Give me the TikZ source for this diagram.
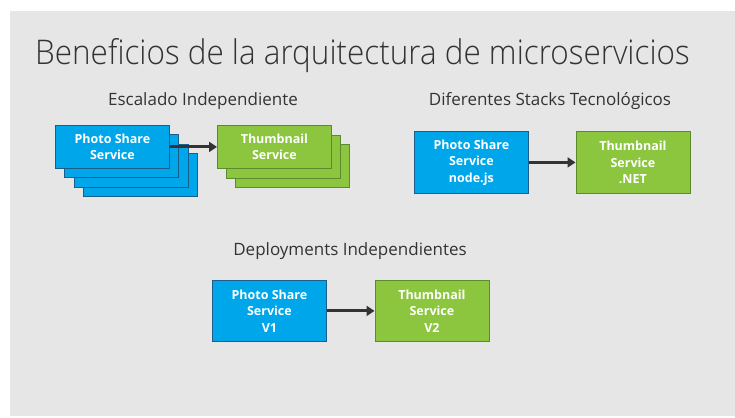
\documentclass[tikz,border=0pt]{standalone}
\usepackage{fontspec}
\setmainfont{Open Sans}
\newfontfamily\lightfont{Open Sans Light}
\usetikzlibrary{arrows.meta}
\definecolor{slidebg}{HTML}{E6E6E6}
\definecolor{svcblue}{HTML}{00A6EA}
\definecolor{svcblueedge}{HTML}{1B5E8C}
\definecolor{svcgreen}{HTML}{8CC63F}
\definecolor{svcgreenedge}{HTML}{5E8A2E}
\definecolor{txtgrey}{HTML}{333333}
\definecolor{arrowgrey}{HTML}{333333}
\begin{document}
\begin{tikzpicture}[x=1pt,y=-1pt,
  bluebox/.style={draw=svcblueedge,fill=svcblue,line width=0.8pt,minimum width=114pt,inner sep=0pt,
    text=white,font=\bfseries\fontsize{12.5}{16.5}\selectfont,align=center,anchor=north west},
  greenbox/.style={draw=svcgreenedge,fill=svcgreen,line width=0.8pt,minimum width=114pt,inner sep=0pt,
    text=white,font=\bfseries\fontsize{12.5}{16.5}\selectfont,align=center,anchor=north west},
  heading/.style={text=txtgrey,font=\fontsize{17}{20}\selectfont,inner sep=0pt},
  flow/.style={draw=arrowgrey,line width=3pt,-{Triangle[length=8pt,width=10pt]}}
]
\useasboundingbox (0,0) rectangle (735,417);
\fill[white] (0,0) rectangle (735,417);
\fill[slidebg] (10,11) rectangle (735,416);

\node[text=txtgrey,font=\lightfont\fontsize{34}{40}\selectfont,inner sep=0pt,anchor=base west] (title) at (35,65) {\scalebox{0.925}[1]{Beneficios de la arquitectura de microservicios}};

% Escalado Independiente
\node[heading,anchor=base] (h1) at (203,106) {Escalado Independiente};
\node[bluebox,minimum height=43pt] (b4) at (83,153) {};
\node[bluebox,minimum height=43pt] (b3) at (73.7,143.7) {};
\node[bluebox,minimum height=43pt] (b2) at (64.3,134.3) {};
\node[bluebox,minimum height=43pt] (b1) at (55,125) {Photo Share\\Service};
\node[greenbox,minimum height=43pt] (g3) at (235,144) {};
\node[greenbox,minimum height=43pt] (g2) at (226,134.5) {};
\node[greenbox,minimum height=43pt] (g1) at (217,125) {Thumbnail\\Service};
\draw[flow] (b1.east) -- (g1.west);

% Diferentes Stacks Tecnologicos
\node[heading,anchor=base] (h2) at (550,106) {Diferentes Stacks Tecnológicos};
\node[bluebox,minimum height=62pt] (s1) at (414,131) {Photo Share\\Service\\node.js};
\node[greenbox,minimum height=62pt] (s2) at (575.5,131) {Thumbnail\\Service\\.NET};
\draw[flow] (s1.east) -- (s2.west);

% Deployments Independientes
\node[heading,anchor=base] (h3) at (350,255) {Deployments Independientes};
\node[bluebox,minimum height=61pt] (d1) at (212,280) {Photo Share\\Service\\V1};
\node[greenbox,minimum height=61pt] (d2) at (374.5,280) {Thumbnail\\Service\\V2};
\draw[flow] (d1.east) -- (d2.west);
\end{tikzpicture}
\end{document}
